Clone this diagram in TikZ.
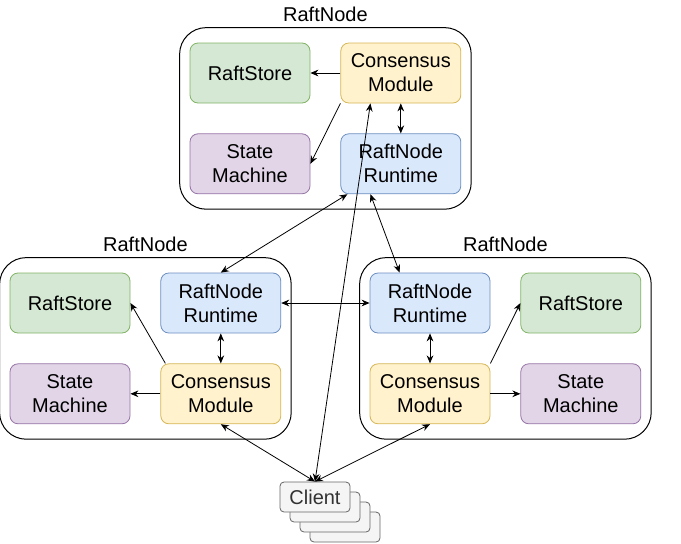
\documentclass[tikz,border=0pt]{standalone}
\usepackage{fontspec}
\setmainfont{Liberation Sans}
\usetikzlibrary{positioning,fit,arrows.meta}
\definecolor{storefill}{HTML}{D5E8D4}\definecolor{storeline}{HTML}{82B366}
\definecolor{consfill}{HTML}{FFF2CC}\definecolor{consline}{HTML}{D6B656}
\definecolor{smfill}{HTML}{E1D5E7}\definecolor{smline}{HTML}{9673A6}
\definecolor{rtfill}{HTML}{DAE8FC}\definecolor{rtline}{HTML}{6C8EBF}
\definecolor{clifill}{HTML}{F5F5F5}\definecolor{cliline}{HTML}{666666}\definecolor{clitext}{HTML}{333333}
\tikzset{
  box/.style={draw, rounded corners=6pt, align=center, minimum width=90pt, minimum height=45pt, inner sep=0pt, line width=0.6pt, font=\fontsize{15pt}{18pt}\selectfont},
  store/.style={box, fill=storefill, draw=storeline},
  cons/.style={box, fill=consfill, draw=consline},
  sm/.style={box, fill=smfill, draw=smline},
  rt/.style={box, fill=rtfill, draw=rtline},
  frame/.style={draw, rounded corners=20pt, inner xsep=7.5pt, inner ysep=11.25pt, line width=0.75pt},
  title/.style={font=\fontsize{15pt}{18pt}\selectfont, inner sep=1pt},
  client/.style={draw=cliline, fill=clifill, text=clitext, rounded corners=3pt, minimum width=52.5pt, minimum height=22.5pt, inner sep=0pt, line width=0.6pt, font=\fontsize{15pt}{18pt}\selectfont},
  arr/.style={-{Stealth[length=6pt,width=5pt]}, line width=0.6pt},
  arr2/.style={{Stealth[length=6pt,width=5pt]}-{Stealth[length=6pt,width=5pt]}, line width=0.6pt}
}
\begin{document}
\begin{tikzpicture}[x=0.75pt, y=-0.75pt, node distance=22.5pt and 22.5pt]
\useasboundingbox (0,0) rectangle (681,543);
% top raft node
\node[store] (tstore) at (250,73) {RaftStore};
\node[cons, right=of tstore] (tcons) {Consensus\\Module};
\node[sm, below=of tstore] (tsm) {State\\Machine};
\node[rt, below=of tcons] (trt) {RaftNode\\Runtime};
\node[frame, fit=(tstore)(trt)] (tnode) {};
\node[title, above=2.5pt of tnode] (ttitle) {RaftNode};
% left raft node
\node[store] (lstore) at (70,303) {RaftStore};
\node[rt, right=of lstore] (lrt) {RaftNode\\Runtime};
\node[sm, below=of lstore] (lsm) {State\\Machine};
\node[cons, below=of lrt] (lcons) {Consensus\\Module};
\node[frame, fit=(lstore)(lcons)] (lnode) {};
\node[title, above=2.5pt of lnode] (ltitle) {RaftNode};
% right raft node
\node[rt] (rrt) at (430,303) {RaftNode\\Runtime};
\node[store, right=of rrt] (rstore) {RaftStore};
\node[cons, below=of rrt] (rcons) {Consensus\\Module};
\node[sm, below=of rstore] (rsm) {State\\Machine};
\node[frame, fit=(rrt)(rsm)] (rnode) {};
\node[title, above=2.5pt of rnode] (rtitle) {RaftNode};
% clients
\node[client] (client3) at (345,527) {};
\node[client] (client2) at (335,517) {};
\node[client] (client1) at (325,507) {};
\node[client] (client) at (315,497) {Client};
% inside the nodes
\draw[arr] (tcons) -- (tstore);
\draw[arr] (tcons.south west) -- (tsm.east);
\draw[arr2] (tcons) -- (trt);
\draw[arr2] (lrt) -- (lcons);
\draw[arr] (lcons) -- (lsm);
\draw[arr] ([xshift=3.75pt]lcons.north west) -- (lstore.east);
\draw[arr2] (rrt) -- (rcons);
\draw[arr] (rcons) -- (rsm);
\draw[arr] (rcons.north east) -- (rstore.west);
% between the nodes
\draw[arr2] ([xshift=5.25pt]trt.south west) -- (lrt.north);
\draw[arr2] ([xshift=22.5pt]trt.south west) -- ([xshift=22.5pt]rrt.north west);
\draw[arr2] (lrt) -- (rrt);
% client
\draw[arr2] (client.north) -- ([xshift=22.5pt]tcons.south west);
\draw[arr2] (client.north) -- (lcons.south);
\draw[arr2] (client.north) -- (rcons.south);
\end{tikzpicture}
\end{document}
